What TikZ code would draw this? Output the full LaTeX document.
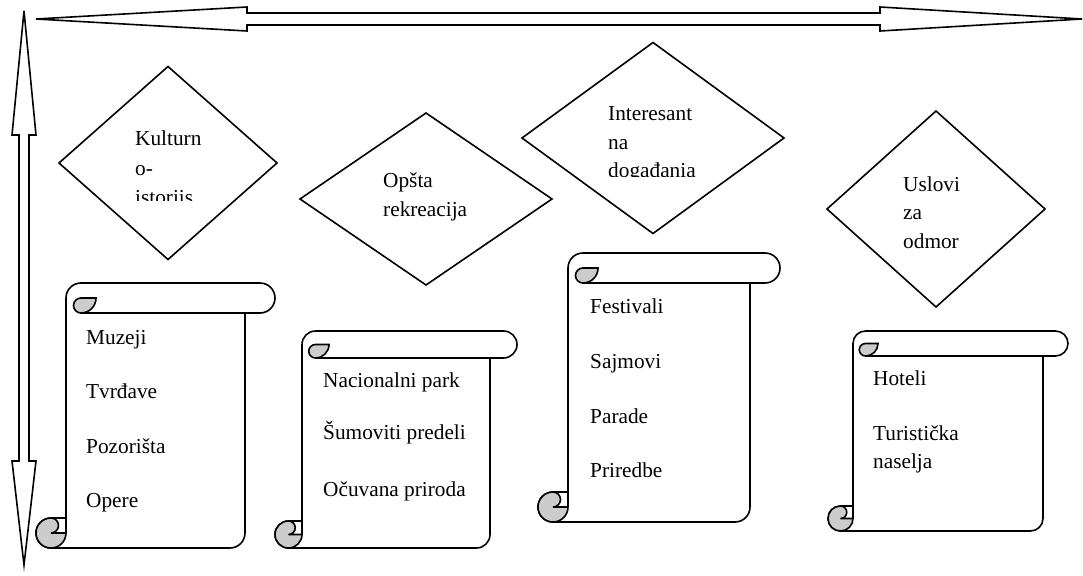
\documentclass[tikz,border=0pt]{standalone}
\usepackage{fontspec}
\setmainfont{Liberation Serif}
\usetikzlibrary{shapes.geometric}
\definecolor{curl}{RGB}{204,204,204}
\tikzset{
  shp/.style={line width=1.6pt, line join=miter},
  dia/.style={diamond, draw, shp, inner sep=0pt, outer sep=0pt},
  txt/.style={anchor=base west, inner sep=0pt, font=\fontsize{21.3}{28}\selectfont},
}
\newcommand\drawscroll[5]{%
  \pgfmathsetmacro\sL{#1}\pgfmathsetmacro\sT{#2}%
  \pgfmathsetmacro\sR{#3}\pgfmathsetmacro\sB{#4}%
  \pgfmathsetmacro\sc{#5}\pgfmathsetmacro\sh{#5/2}\pgfmathsetmacro\sq{#5/4}%
  \draw[shp, fill=white] ({\sL+\sc},{\sT+\sh}) arc[start angle=180,end angle=270,radius=\sh]
    -- ({\sR-\sh},\sT) arc[start angle=270,end angle=450,radius=\sh]
    -- ({\sR-\sc},{\sT+\sc}) -- ({\sR-\sc},{\sB-\sh}) arc[start angle=0,end angle=90,radius=\sh]
    -- ({\sL+\sh},\sB) arc[start angle=90,end angle=270,radius=\sh]
    -- ({\sL+\sc},{\sB-\sc}) -- cycle;
  \draw[shp] ({\sR-\sc},{\sT+\sc}) -- ({\sL+\sc+\sh},{\sT+\sc});
  \filldraw[shp, fill=curl] ({\sL+\sc+\sc},{\sT+\sh}) arc[start angle=0,end angle=90,radius=\sh]
    arc[start angle=90,end angle=270,radius=\sq] -- cycle;
  \filldraw[shp, fill=curl] ({\sL+\sh},{\sB-\sc}) arc[start angle=270,end angle=0,radius=\sh]
    -- ({\sL+\sh},{\sB-\sh}) arc[start angle=90,end angle=-90,radius=\sq] -- cycle;
  \draw[shp] ({\sL+\sc},{\sB-\sc}) -- ({\sL+\sc},{\sB-\sh});
}
\begin{document}
\begin{tikzpicture}[x=1pt,y=-1pt]
\useasboundingbox (0,0) rectangle (1083,575);
% double arrows
\draw[shp, fill=white] (36,19) -- (247,7) -- (247,13) -- (880,13) -- (880,7) -- (1082,19)
  -- (880,31) -- (880,25) -- (247,25) -- (247,31) -- cycle;
\draw[shp, fill=white] (24,11) -- (36,135) -- (29,135) -- (29,461) -- (36,461) -- (24,565)
  -- (12,461) -- (19,461) -- (19,135) -- (12,135) -- cycle;
% diamonds
\node[dia, minimum width=218pt, minimum height=193pt] (d1) at (168,163) {};
\node[dia, minimum width=252pt, minimum height=172pt] (d2) at (426,199) {};
\node[dia, minimum width=262pt, minimum height=191pt] (d3) at (653,138) {};
\node[dia, minimum width=218pt, minimum height=196pt] (d4) at (936,209) {};
\begin{scope}
  \clip (120,110) rectangle (260,200);
  \node[txt] (k1) at (135,146) {Kulturn};
  \node[txt] (k2) at (135,175) {o-};
  \node[txt] (k3) at (135,204) {istoriis};
\end{scope}
\node[txt] (o1) at (383,187) {Opšta};
\node[txt] (o2) at (383,216) {rekreacija};
\begin{scope}
  \clip (590,90) rectangle (760,176);
  \node[txt] (i1) at (608,121) {Interesant};
  \node[txt] (i2) at (608,149) {na};
  \node[txt] (i3) at (608,177) {događania};
\end{scope}
\node[txt] (u1) at (903,191) {Uslovi};
\node[txt] (u2) at (903,219) {za};
\node[txt] (u3) at (903,248) {odmor};
% scrolls
\drawscroll{36}{283}{275}{548}{30}
\drawscroll{275}{331}{517}{548}{27}
\drawscroll{538}{253}{780}{522}{30}
\drawscroll{828}{331}{1068}{531}{25}
\node[txt] (s1a) at (86,344) {Muzeji};
\node[txt] (s1b) at (86,398) {Tvrđave};
\node[txt] (s1c) at (86,453) {Pozorišta};
\node[txt] (s1d) at (86,507) {Opere};
\node[txt] (s2a) at (323,387) {Nacionalni park};
\node[txt] (s2b) at (323,439) {Šumoviti predeli};
\node[txt] (s2c) at (323,496) {Očuvana priroda};
\node[txt] (s3a) at (590,313) {Festivali};
\node[txt] (s3b) at (590,368) {Sajmovi};
\node[txt] (s3c) at (590,423) {Parade};
\node[txt] (s3d) at (590,477) {Priredbe};
\node[txt] (s4a) at (873,385) {Hoteli};
\node[txt] (s4b) at (873,440) {Turistička};
\node[txt] (s4c) at (873,468) {naselja};
\end{tikzpicture}
\end{document}
